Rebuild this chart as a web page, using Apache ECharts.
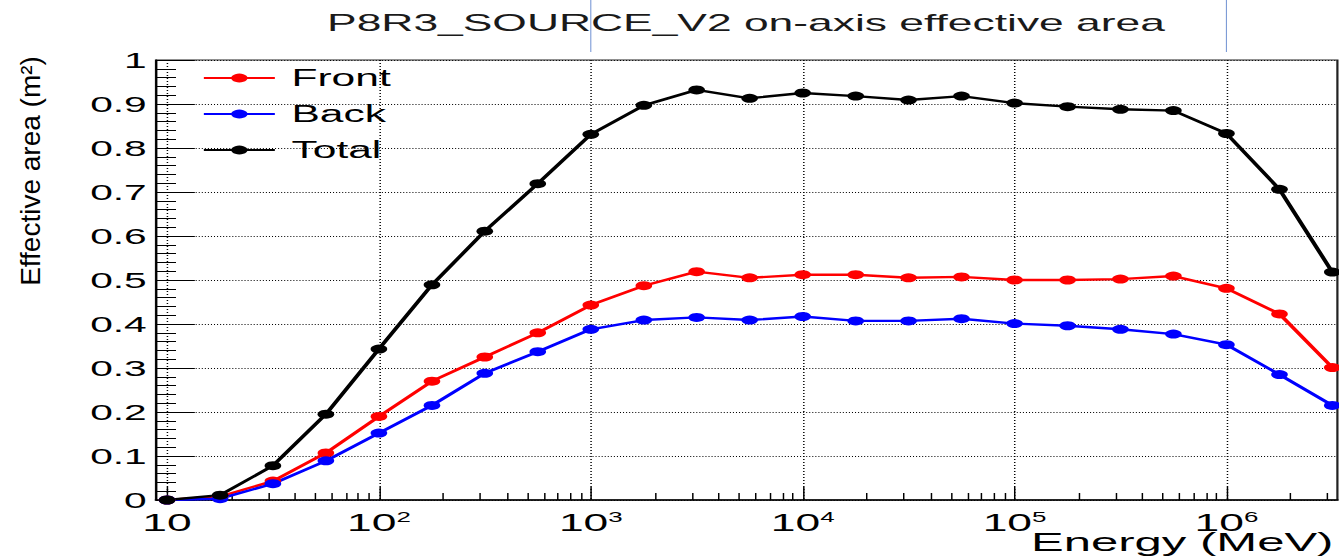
<!DOCTYPE html>
<html>
<head>
<meta charset="utf-8">
<script src="https://cdn.jsdelivr.net/npm/echarts@6/dist/echarts.min.js"></script>
<style>
  html, body { margin: 0; padding: 0; background: #fff; overflow: hidden; width: 1339px; height: 556px; }
  #chart { height: 556px; transform-origin: 0 0; }
</style>
</head>
<body>
<div id="chart"></div>
<script>
// The whole figure is drawn in a narrower frame and stretched horizontally,
// which gives the wide lettering and oval markers of the original plot.
const STRETCH = 1.85;
const PAGE_W = 1339;
const PAGE_H = 556;
const FONT = '"Liberation Sans", Arial, Helvetica, sans-serif';

// Energy bins (MeV), quarter-decade steps
const energies = [10, 17.8, 31.6, 56.2, 100, 178, 316, 562, 1000, 1780, 3160, 5620,
  10000, 17800, 31600, 56200, 100000, 178000, 316000, 562000, 1000000, 1780000, 3160000];

// On-axis effective area (m^2)
const front = [0, 0.008, 0.043, 0.107, 0.190, 0.270, 0.325, 0.380, 0.443, 0.487, 0.519, 0.505,
  0.512, 0.512, 0.505, 0.507, 0.500, 0.500, 0.502, 0.509, 0.481, 0.423, 0.301];
const back = [0, 0.003, 0.037, 0.089, 0.152, 0.215, 0.288, 0.337, 0.388, 0.409, 0.415, 0.409,
  0.417, 0.407, 0.407, 0.412, 0.401, 0.396, 0.388, 0.377, 0.353, 0.285, 0.215];
const total = [0, 0.011, 0.078, 0.195, 0.343, 0.489, 0.611, 0.719, 0.831, 0.897, 0.932, 0.913,
  0.925, 0.918, 0.909, 0.918, 0.902, 0.894, 0.888, 0.885, 0.833, 0.706, 0.518];

// Axis ranges and ticks
const xMin = 8.87;
const xMax = 3.34e6;
const decadeTicks = [10, 100, 1000, 10000, 100000, 1000000];
const minorMultipliers = [2, 3, 4, 5, 6, 7, 8, 9];
const yMin = 0, yMax = 1, yStep = 0.1;

const minorTicks = [];
decadeTicks.forEach(d => minorMultipliers.forEach(m => {
  const v = d * m;
  if (v < xMax) minorTicks.push(v);
}));

const lx = v => v / STRETCH;           // page pixels -> drawing pixels (horizontal)
const W = PAGE_W / STRETCH;

const el = document.getElementById('chart');
el.style.width = W + 'px';
el.style.transform = 'scaleX(' + STRETCH + ')';

const chart = echarts.init(el, null, { renderer: 'svg' });

function lineSeries(name, values, color) {
  return {
    name: name,
    type: 'line',
    xAxisIndex: 0,
    yAxisIndex: 0,
    data: energies.map((e, i) => [e, values[i]]),
    symbol: 'circle',
    symbolSize: 9,
    showSymbol: true,
    lineStyle: { color: color, width: 2.4 },
    itemStyle: { color: color },
    emphasis: { disabled: true }
  };
}

const option = {
  backgroundColor: '#fff',
  animation: false,
  title: {
    text: 'P8R3_SOURCE_V2 on-axis effective area',
    left: lx(746),
    top: 11,
    padding: 0,
    textAlign: 'center',
    textStyle: { fontFamily: FONT, fontSize: 24, fontWeight: 'normal', color: '#1a1a1a' }
  },
  legend: {
    orient: 'vertical',
    left: lx(202),
    top: 63,
    padding: 0,
    itemWidth: lx(71),
    itemHeight: 11,
    itemGap: 6,
    selectedMode: false,
    textStyle: { fontFamily: FONT, fontSize: 23, color: '#000', lineHeight: 30, padding: [0, 0, 0, 4] },
    data: ['Front', 'Back', 'Total']
  },
  grid: {
    show: true,
    left: lx(156),
    right: W - lx(1337),
    top: 60,
    bottom: PAGE_H - 500,
    outerBoundsMode: 'none',
    containLabel: false,
    borderColor: '#222',
    borderWidth: 1.2,
    backgroundColor: 'transparent'
  },
  xAxis: [
    {
      type: 'log',
      logBase: 10,
      min: xMin,
      max: xMax,
      position: 'bottom',
      axisLine: { show: true, onZero: false, lineStyle: { color: '#000', width: 1.6 } },
      axisTick: { show: true, inside: true, length: 13, customValues: decadeTicks,
        lineStyle: { color: '#000', width: 0.8 } },
      axisLabel: {
        customValues: decadeTicks,
        margin: 10,
        formatter: function (v) {
          const p = Math.round(Math.log10(v));
          return p === 1 ? '{b|10}' : '{b|10}{sup|' + p + '}';
        },
        rich: {
          b: { fontFamily: FONT, fontSize: 24, color: '#000', lineHeight: 26 },
          sup: { fontFamily: FONT, fontSize: 14, color: '#000', lineHeight: 12, verticalAlign: 'top' }
        }
      },
      splitLine: { show: true, lineStyle: { color: '#000', width: 0.8, type: [1, 2] } }
    },
    {
      type: 'log',
      logBase: 10,
      min: xMin,
      max: xMax,
      position: 'bottom',
      axisLine: { show: false },
      axisTick: { show: true, inside: true, length: 7, customValues: minorTicks,
        lineStyle: { color: '#000', width: 0.8 } },
      axisLabel: { show: false },
      splitLine: { show: false }
    }
  ],
  yAxis: {
    type: 'value',
    min: yMin,
    max: yMax,
    interval: yStep,
    axisLine: { show: true, lineStyle: { color: '#000', width: 1.1 } },
    axisTick: { show: true, inside: true, length: 21, lineStyle: { color: '#000', width: 1 } },
    minorTick: { show: true, splitNumber: 5, length: 10.8, lineStyle: { color: '#000', width: 1 } },
    axisLabel: { margin: 5, fontFamily: FONT, fontSize: 22, color: '#000' },
    splitLine: { show: true, lineStyle: { color: '#000', width: 1, type: [0.55, 1.1] } }
  },
  series: [
    lineSeries('Front', front, '#ff0000'),
    lineSeries('Back', back, '#0000ff'),
    lineSeries('Total', total, '#000000')
  ]
};

chart.setOption(option);

// Axis titles and the two thin guide marks above the frame at 10^3 and 10^6
const guideX = [1000, 1000000].map(v => chart.convertToPixel({ xAxisIndex: 0 }, v));
const axisEndX = chart.convertToPixel({ xAxisIndex: 0 }, xMax);
chart.setOption({
  graphic: [
    {
      type: 'text',
      x: lx(30),
      y: 171,
      rotation: Math.PI / 2,
      scaleY: 1.0 / STRETCH,
      style: {
        text: 'Effective area (m²)',
        font: '28px ' + FONT,
        fill: '#000',
        textAlign: 'center',
        textVerticalAlign: 'middle'
      }
    },
    {
      type: 'text',
      x: axisEndX - lx(4),
      y: 542,
      style: {
        text: 'Energy (MeV)',
        font: '26.5px ' + FONT,
        fill: '#000',
        textAlign: 'right',
        textVerticalAlign: 'middle'
      }
    }
  ].concat(guideX.map(x => ({
    type: 'line',
    shape: { x1: x, y1: 0, x2: x, y2: 52 },
    style: { stroke: '#7b9ad6', lineWidth: 1.1 / STRETCH }
  })))
});
</script>
</body>
</html>
